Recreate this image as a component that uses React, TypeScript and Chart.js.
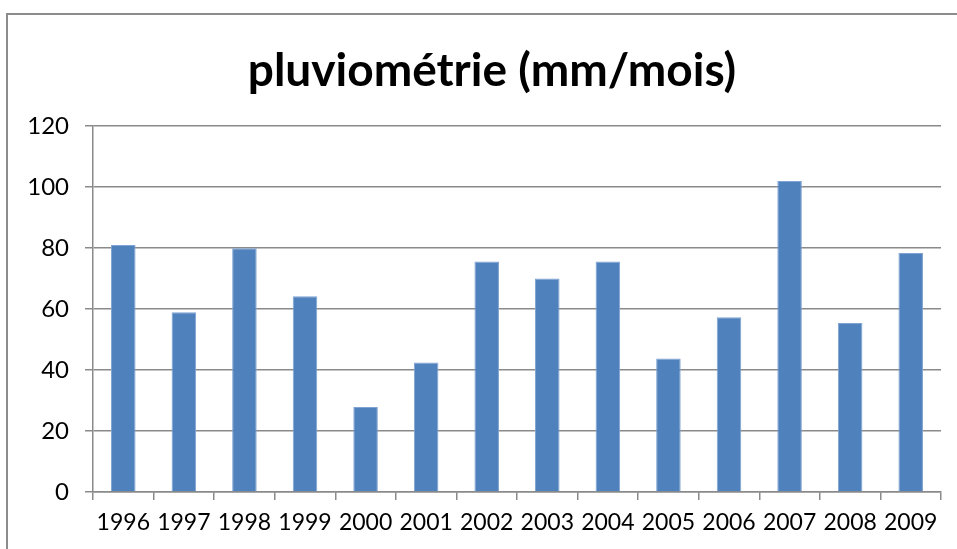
import React, { useEffect, useRef } from "react";
import { Chart, registerables } from "chart.js";

Chart.register(...registerables);

const TITLE = "pluviométrie (mm/mois)";
const YEARS = ["1996", "1997", "1998", "1999", "2000", "2001", "2002", "2003", "2004", "2005", "2006", "2007", "2008", "2009"];
const RAINFALL = [81.0, 58.9, 79.9, 64.2, 27.9, 42.5, 75.6, 70.0, 75.6, 43.8, 57.3, 102.0, 55.4, 78.4];
const Y_MIN = 0;
const Y_MAX = 120;
const Y_STEP = 20;

const FONT = "Lato, 'Open Sans', sans-serif";
const GRID = "#8a8a8a";

const framePlugin = {
  id: "frame",
  beforeDraw(chart: any) {
    const ctx = chart.ctx;
    ctx.save();
    ctx.fillStyle = "#ffffff";
    ctx.fillRect(0, 0, chart.width, chart.height);
    ctx.strokeStyle = "#8c8c8c";
    ctx.lineWidth = 2;
    ctx.strokeRect(7, 14, chart.width + 50, chart.height + 50);
    ctx.restore();
  },
  afterDraw(chart: any) {
    const ctx = chart.ctx;
    ctx.save();
    ctx.fillStyle = "#000000";
    ctx.font = `bold 46px ${FONT}`;
    ctx.textAlign = "center";
    ctx.textBaseline = "alphabetic";
    ctx.fillText(TITLE, 492, 86);
    ctx.restore();
  },
};

export default function App() {
  const ref = useRef<HTMLCanvasElement | null>(null);

  useEffect(() => {
    if (!ref.current) return;
    const chart = new Chart(ref.current, {
      type: "bar",
      data: {
        labels: YEARS,
        datasets: [
          {
            label: TITLE,
            data: RAINFALL,
            backgroundColor: "#4f81bd",
            borderColor: "#7fa3d3",
            borderWidth: 1,
            categoryPercentage: 1,
            barPercentage: 0.405,
          },
        ],
      },
      options: {
        responsive: false,
        animation: false,
        layout: { padding: { top: 126, left: 0, right: 16, bottom: 0 } },
        plugins: {
          legend: { display: false },
          title: { display: false },
          tooltip: { enabled: false },
        },
        scales: {
          x: {
            grid: {
              offset: true,
              drawOnChartArea: false,
              drawTicks: true,
              tickLength: 8,
              color: GRID,
              lineWidth: 1.5,
            },
            border: { color: GRID, width: 1.5 },
            ticks: {
              color: "#000000",
              font: { family: FONT, size: 23 },
              padding: 9,
              maxRotation: 0,
              autoSkip: false,
            },
            afterFit(scale: any) {
              scale.height = 57;
            },
          },
          y: {
            min: Y_MIN,
            max: Y_MAX,
            grid: {
              color: GRID,
              lineWidth: 1.5,
              drawTicks: true,
              tickLength: 8,
            },
            border: { color: GRID, width: 1.5 },
            ticks: {
              stepSize: Y_STEP,
              color: "#000000",
              font: { family: FONT, size: 24 },
              padding: 16,
            },
            afterFit(scale: any) {
              scale.width = 93;
            },
          },
        },
      },
      plugins: [framePlugin],
    });
    return () => chart.destroy();
  }, []);

  return (
    <div style={{ position: "fixed", left: 0, top: 0, width: 957, height: 549 }}>
      <canvas ref={ref} width={957} height={549} style={{ display: "block" }} />
    </div>
  );
}
